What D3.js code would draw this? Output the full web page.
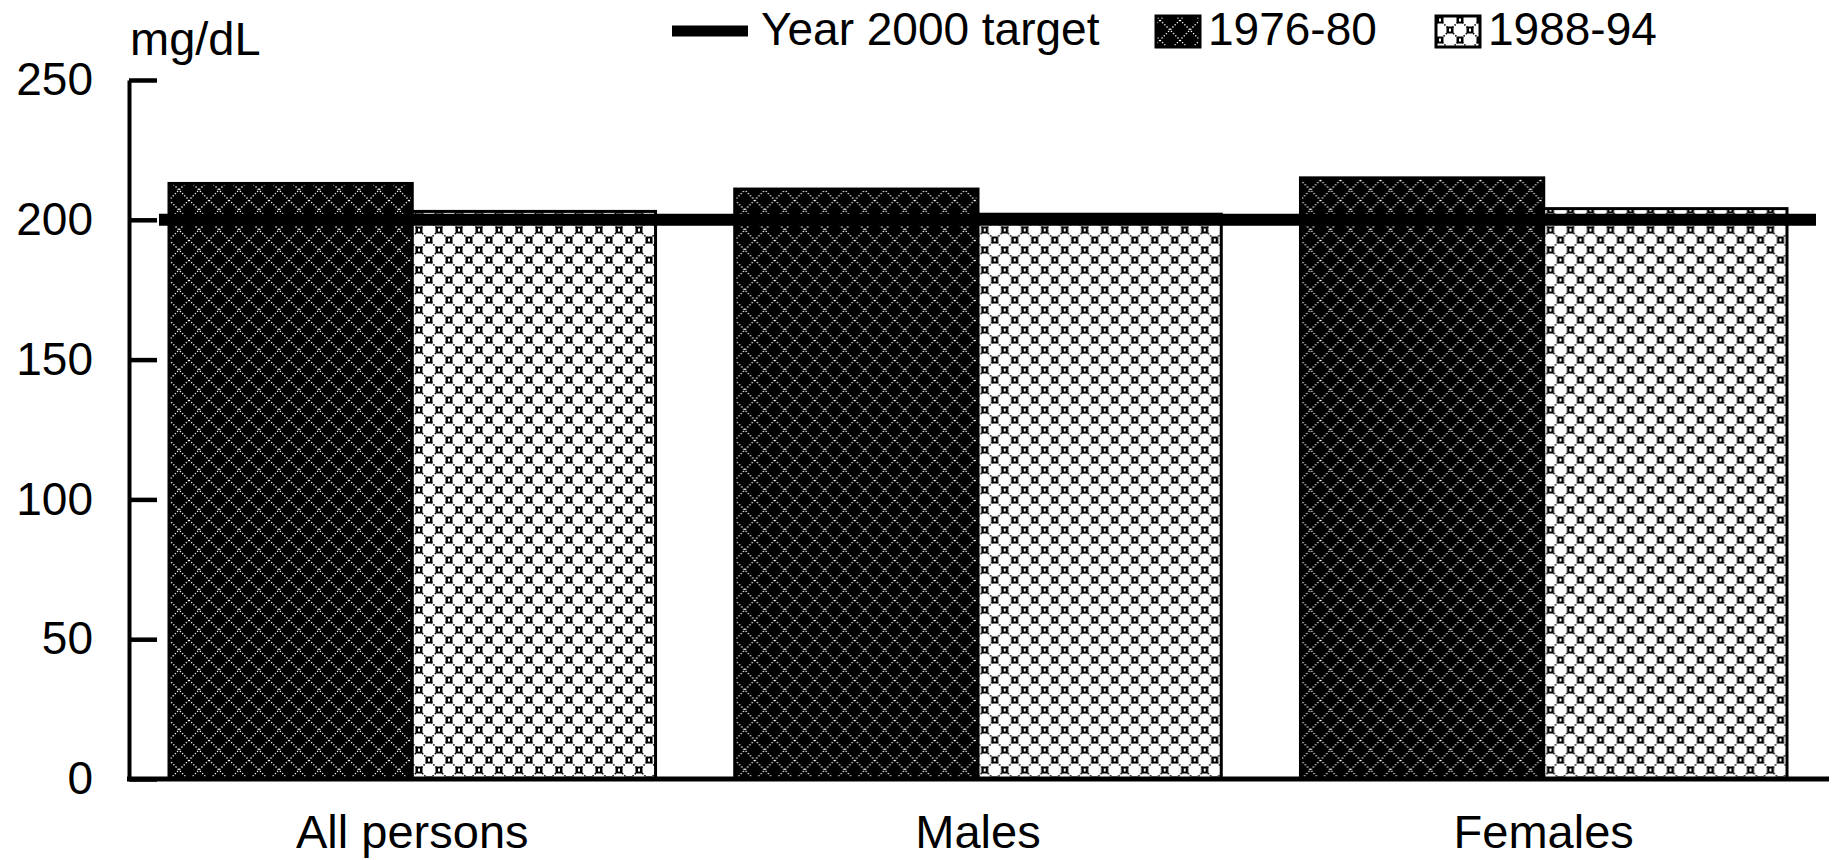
<!DOCTYPE html>
<html>
<head>
<meta charset="utf-8">
<script src="https://cdn.jsdelivr.net/npm/d3@7"></script>
<style>
  html, body { margin: 0; padding: 0; background: #fff; }
  text { font-family: "Liberation Sans", Arial, sans-serif; fill: #000; }
</style>
</head>
<body>
<script>
// Data (mean serum cholesterol, mg/dL)
var categories = ["All persons", "Males", "Females"];
var periods = ["1976-80", "1988-94"];
var values7680 = [213, 211, 215];
var values8894 = [203, 202, 204];
var target = 200;
var targetLabel = "Year 2000 target";
var yTicks = [0, 50, 100, 150, 200, 250];
var unitLabel = "mg/dL";

function main() {
  var width = 1841, height = 860;

  var svg = d3.select("body").append("svg")
    .attr("width", width)
    .attr("height", height);

  // hatch patterns
  var defs = svg.append("defs");

  var pDark = defs.append("pattern")
    .attr("id", "pat0")
    .attr("patternUnits", "userSpaceOnUse")
    .attr("width", 20).attr("height", 20);
  pDark.append("rect").attr("width", 20).attr("height", 20).attr("fill", "#000");
  pDark.append("path")
    .attr("d", "M0,0 L20,20 M20,0 L0,20")
    .attr("stroke", "#fff")
    .attr("stroke-width", 1.3)
    .attr("stroke-dasharray", "1.3 1.8")
    .attr("fill", "none");

  var pLight = defs.append("pattern")
    .attr("id", "pat1")
    .attr("patternUnits", "userSpaceOnUse")
    .attr("width", 20).attr("height", 20);
  pLight.append("rect").attr("width", 20).attr("height", 20).attr("fill", "#fff");
  pLight.append("path")
    .attr("d", "M0,0 L20,20 M20,0 L0,20")
    .attr("stroke", "#000")
    .attr("stroke-width", 1.5)
    .attr("stroke-dasharray", "1.5 1.6")
    .attr("fill", "none");
  [[0, 0], [20, 0], [0, 20], [20, 20], [10, 10]].forEach(function(c) {
    pLight.append("rect")
      .attr("x", c[0] - 3.5).attr("y", c[1] - 3.5)
      .attr("width", 7).attr("height", 7)
      .attr("fill", "#000");
    pLight.append("rect")
      .attr("x", c[0] - 1).attr("y", c[1] - 1.5)
      .attr("width", 2).attr("height", 3)
      .attr("fill", "#fff");
  });

  // scales
  var x = d3.scaleBand()
    .domain(categories)
    .range([169, 1787])
    .paddingInner(0.14)
    .paddingOuter(0);

  var xSub = d3.scaleBand()
    .domain(periods)
    .range([0, x.bandwidth()]);

  var y = d3.scaleLinear()
    .domain([0, 250])
    .range([779, 80]);

  var rows = categories.map(function(c, i) {
    return { category: c, values: [values7680[i], values8894[i]] };
  });

  // bars
  var groups = svg.append("g").selectAll("g")
    .data(rows)
    .join("g")
    .attr("transform", function(d) { return "translate(" + x(d.category) + ",0)"; });

  groups.selectAll("rect")
    .data(function(d) {
      return periods.map(function(p, j) { return { period: p, idx: j, value: d.values[j] }; });
    })
    .join("rect")
    .attr("x", function(d) { return xSub(d.period); })
    .attr("y", function(d) { return y(d.value); })
    .attr("width", xSub.bandwidth())
    .attr("height", function(d) { return y(0) - y(d.value); })
    .attr("fill", function(d) { return "url(#pat" + d.idx + ")"; })
    .attr("stroke", "#000")
    .attr("stroke-width", 3);

  // target line
  svg.append("line")
    .attr("x1", x.range()[0] - 10)
    .attr("x2", x.range()[1] + 29)
    .attr("y1", y(target))
    .attr("y2", y(target))
    .attr("stroke", "#000")
    .attr("stroke-width", 12);

  // y axis, ticks facing inward
  var yAxis = svg.append("g")
    .attr("transform", "translate(129,0)")
    .call(d3.axisLeft(y)
      .tickValues(yTicks)
      .tickSize(-28)
      .tickSizeOuter(0)
      .tickPadding(36));
  yAxis.select(".domain").attr("stroke-width", 4);
  yAxis.selectAll(".tick line").attr("stroke-width", 4.5);
  yAxis.selectAll(".tick text")
    .attr("font-size", 46)
    .attr("font-family", "Liberation Sans, Arial, sans-serif");

  // x axis line
  svg.append("line")
    .attr("x1", 127).attr("x2", 1829)
    .attr("y1", y(0)).attr("y2", y(0))
    .attr("stroke", "#000")
    .attr("stroke-width", 5);

  var xAxis = svg.append("g")
    .attr("transform", "translate(0," + y(0) + ")")
    .call(d3.axisBottom(x).tickSize(0).tickPadding(36));
  xAxis.select(".domain").remove();
  xAxis.selectAll(".tick text")
    .attr("font-size", 47)
    .attr("font-family", "Liberation Sans, Arial, sans-serif");

  // unit label
  svg.append("text")
    .attr("x", 130)
    .attr("y", 55)
    .attr("font-size", 47)
    .text(unitLabel);

  // legend
  var legend = svg.append("g");
  legend.append("line")
    .attr("x1", 672).attr("x2", 748)
    .attr("y1", 31).attr("y2", 31)
    .attr("stroke", "#000")
    .attr("stroke-width", 11);
  legend.append("text")
    .attr("x", 761).attr("y", 45)
    .attr("font-size", 46)
    .text(targetLabel);

  var swatchX = [1156, 1436];
  periods.forEach(function(p, j) {
    legend.append("rect")
      .attr("x", swatchX[j]).attr("y", 16)
      .attr("width", 44).attr("height", 31)
      .attr("fill", "url(#pat" + j + ")")
      .attr("stroke", "#000")
      .attr("stroke-width", 3);
    legend.append("text")
      .attr("x", swatchX[j] + 52).attr("y", 45)
      .attr("font-size", 46)
      .text(p);
  });
}

main();
</script>
</body>
</html>
